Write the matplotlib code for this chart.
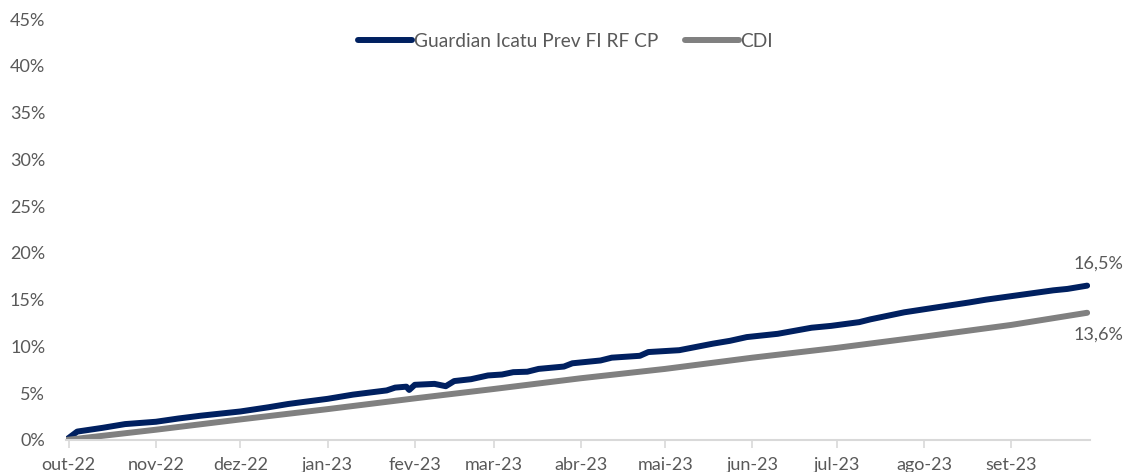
import matplotlib.pyplot as plt
import matplotlib.dates as mdates
import pandas as pd

# Values (accumulated return, %)
fund_dates = ["2022-09-30", "2022-10-04", "2022-10-13", "2022-10-21", "2022-11-01",
              "2022-11-09", "2022-11-17", "2022-12-01", "2022-12-11", "2022-12-18",
              "2022-12-23", "2023-01-01", "2023-01-10", "2023-01-22", "2023-01-25",
              "2023-01-29", "2023-01-30", "2023-02-01", "2023-02-08", "2023-02-12",
              "2023-02-15", "2023-02-21", "2023-02-27", "2023-03-04", "2023-03-08",
              "2023-03-13", "2023-03-17", "2023-03-26", "2023-03-29", "2023-04-08",
              "2023-04-12", "2023-04-22", "2023-04-25", "2023-05-06", "2023-05-18",
              "2023-05-24", "2023-05-30", "2023-06-10", "2023-06-22", "2023-06-29",
              "2023-07-09", "2023-07-13", "2023-07-25", "2023-08-06", "2023-08-17",
              "2023-08-23", "2023-09-04", "2023-09-16", "2023-09-21", "2023-09-28"]
fund_values = [0.0, 0.9, 1.3, 1.7, 1.95,
               2.3, 2.6, 3.05, 3.5, 3.85,
               4.05, 4.4, 4.85, 5.3, 5.6,
               5.7, 5.35, 5.9, 6.0, 5.75,
               6.3, 6.5, 6.9, 7.0, 7.25,
               7.3, 7.6, 7.85, 8.2, 8.5,
               8.8, 9.0, 9.4, 9.6, 10.3,
               10.6, 11.0, 11.35, 12.0, 12.2,
               12.6, 12.9, 13.65, 14.2, 14.7,
               15.0, 15.5, 16.0, 16.15, 16.5]

cdi_dates = ["2022-09-30", "2022-11-01", "2022-12-01", "2023-01-01", "2023-02-01",
             "2023-03-01", "2023-04-01", "2023-05-01", "2023-06-01", "2023-07-01",
             "2023-08-01", "2023-09-01", "2023-09-28"]
cdi_values = [0.0, 1.1, 2.2, 3.3, 4.45,
              5.45, 6.6, 7.6, 8.8, 9.85,
              11.05, 12.3, 13.6]

months_pt = ["jan", "fev", "mar", "abr", "mai", "jun", "jul", "ago", "set", "out", "nov", "dez"]

plt.rcParams['font.family'] = ['Lato', 'DejaVu Sans']

fig = plt.figure(figsize=(11.26, 4.72), dpi=100)
ax = fig.add_axes([0.0586, 0.0678, 0.9094, 0.8919])

blue = '#002060'
grey = '#808080'
text_col = '#595959'

ax.plot(pd.to_datetime(fund_dates), fund_values, color=blue, lw=4.3,
        solid_capstyle='round', solid_joinstyle='round', label='Guardian Icatu Prev FI RF CP')
ax.plot(pd.to_datetime(cdi_dates), cdi_values, color=grey, lw=4.3,
        solid_capstyle='round', solid_joinstyle='round', label='CDI')

# end labels
ax.annotate(f"{fund_values[-1]:.1f}%".replace('.', ','), (pd.Timestamp(fund_dates[-1]), fund_values[-1]),
            xytext=(8, 10), textcoords='offset points', ha='center', va='bottom',
            fontsize=13, color=text_col)
ax.annotate(f"{cdi_values[-1]:.1f}%".replace('.', ','), (pd.Timestamp(cdi_dates[-1]), cdi_values[-1]),
            xytext=(8, -10), textcoords='offset points', ha='center', va='top',
            fontsize=13, color=text_col)

ax.set_ylim(0, 45)
ax.set_yticks(range(0, 46, 5))
ax.set_yticklabels([f"{v}%" for v in range(0, 46, 5)])
ax.set_xlim(pd.Timestamp("2022-09-30"), pd.Timestamp("2023-09-29"))

ax.xaxis.set_major_locator(mdates.MonthLocator())
ax.xaxis.set_major_formatter(plt.FuncFormatter(
    lambda x, pos: f"{months_pt[mdates.num2date(x).month - 1]}-{mdates.num2date(x).strftime('%y')}"))

for s in ['top', 'right', 'left']:
    ax.spines[s].set_visible(False)
ax.spines['bottom'].set_color('#d9d9d9')
ax.spines['bottom'].set_linewidth(1.5)

ax.tick_params(axis='y', length=0, pad=15, labelsize=13, labelcolor=text_col)
ax.tick_params(axis='x', length=6, width=1.2, color='#d9d9d9', pad=6,
               labelsize=13, labelcolor=text_col)
for lbl in ax.get_yticklabels():
    lbl.set_horizontalalignment('right')

leg = ax.legend(loc='upper center', bbox_to_anchor=(0.488, 1.008), ncol=2, frameon=False,
                fontsize=13.8, handlelength=2.8, handletextpad=0.1, columnspacing=1.4)
for t in leg.get_texts():
    t.set_color(text_col)

fig.savefig('out.png', dpi=100)
